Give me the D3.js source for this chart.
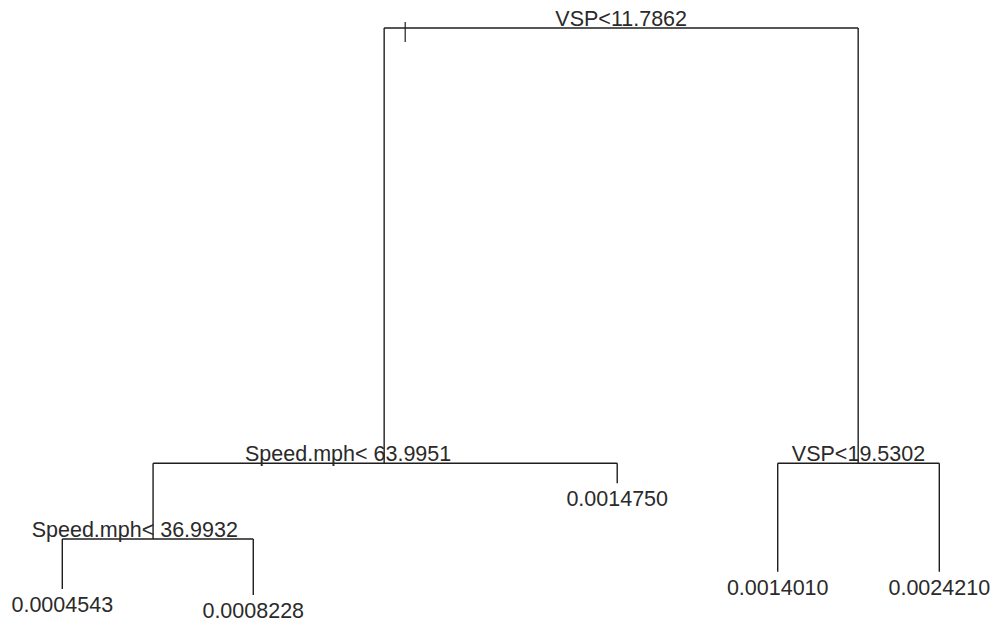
<!DOCTYPE html>
<html>
<head>
<meta charset="utf-8">
<script src="https://cdn.jsdelivr.net/npm/d3@7"></script>
<style>
  html, body { margin: 0; padding: 0; background: #fff; }
  svg { display: block; }
</style>
</head>
<body>
<svg id="chart" width="995" height="622"></svg>
<script>
// ---- data ----
// tree nodes: id, parent id, split label (internal) or fitted value (leaf)
const nodeIds     = ["root", "spd64", "vsp19", "spd37", "leafA", "leafB", "leafC", "leafD", "leafE"];
const nodeParents = [null,   "root",  "root",  "spd64", "spd37", "spd37", "spd64", "vsp19", "vsp19"];
const nodeLabels  = ["VSP<11.7862", "Speed.mph< 63.9951", "VSP<19.5302", "Speed.mph< 36.9932",
                     "0.0004543", "0.0008228", "0.0014750", "0.0014010", "0.0024210"];
// horizontal position of each node, in leaf-order units (leaf 1 .. leaf 5)
const nodePos     = [3.55, 2.468, 4.63, 1.414, 1, 1.871, 3.531, 4.263, 5];
// relative deviance of each node (root = 1), sets the vertical position
const nodeDev     = [1.0, 0.239, 0.239, 0.1066, 0.0192, 0.0087, 0.204, 0.0495, 0.0495];

// ---- layout / style ----
const W = 995, H = 622;
const FONT = "Liberation Sans, Arial, sans-serif";
const FS = 21.5;
const LINE = "#1e1e1e", TEXT = "#2a2a2a";
const labelShift = { spd64: -37, spd37: -23 };   // split labels drawn left of centre in the original

const x = d3.scaleLinear().domain([1, 5]).range([62.3, 939.3]);
const y = d3.scaleLinear().domain([0, 1]).range([600, 28]);

const nodes = nodeIds.map((id, i) => ({
  id, parent: nodeParents[i], label: nodeLabels[i], pos: nodePos[i], dev: nodeDev[i]
}));
const byId = new Map(nodes.map(n => [n.id, n]));
nodes.forEach(n => { n.children = nodes.filter(c => c.parent === n.id); });

const svg = d3.select("#chart");
const g = svg.append("g");

// vertical segments: from parent level down to node level
nodes.filter(n => n.parent).forEach(n => {
  const p = byId.get(n.parent);
  g.append("line")
    .attr("x1", x(n.pos)).attr("x2", x(n.pos))
    .attr("y1", y(p.dev)).attr("y2", y(n.dev))
    .attr("stroke", LINE).attr("stroke-width", 1.4);
});

// horizontal segments at each split
nodes.filter(n => n.children.length).forEach(n => {
  const xs = n.children.map(c => x(c.pos));
  g.append("line")
    .attr("x1", d3.min(xs)).attr("x2", d3.max(xs))
    .attr("y1", y(n.dev)).attr("y2", y(n.dev))
    .attr("stroke", LINE).attr("stroke-width", 1.4);
});

// small stray tick near the root split (present in the original)
const rootN = byId.get("root");
g.append("line")
  .attr("x1", x(2.564)).attr("x2", x(2.564))
  .attr("y1", y(rootN.dev) - 6).attr("y2", y(rootN.dev) + 14)
  .attr("stroke", LINE).attr("stroke-width", 1.2);

// split labels
nodes.filter(n => n.children.length).forEach(n => {
  const xs = n.children.map(c => x(c.pos));
  const cx = (d3.min(xs) + d3.max(xs)) / 2 + (labelShift[n.id] || 0);
  g.append("text")
    .attr("x", cx).attr("y", y(n.dev) - 2)
    .attr("text-anchor", "middle")
    .attr("font-family", FONT).attr("font-size", FS)
    .attr("fill", TEXT)
    .text(n.label);
});

// leaf labels
nodes.filter(n => !n.children.length).forEach(n => {
  g.append("text")
    .attr("x", x(n.pos)).attr("y", y(n.dev) + 23)
    .attr("text-anchor", "middle")
    .attr("font-family", FONT).attr("font-size", FS)
    .attr("fill", TEXT)
    .text(n.label);
});
</script>
</body>
</html>
